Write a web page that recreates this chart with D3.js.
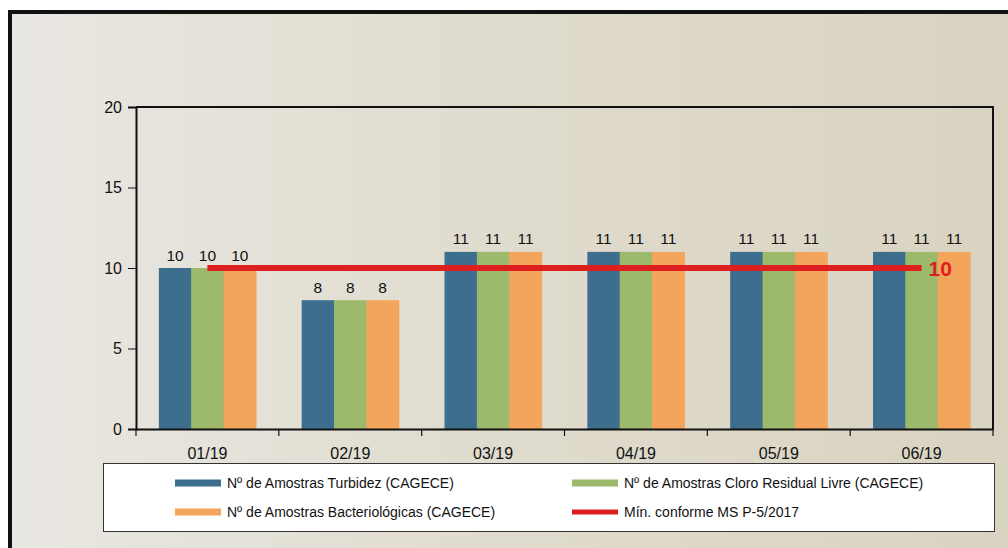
<!DOCTYPE html>
<html><head><meta charset="utf-8">
<script src="https://cdn.jsdelivr.net/npm/d3@7"></script>
<style>body{margin:0;background:#fff;}svg{display:block;font-family:"Liberation Sans",Arial,sans-serif;}</style>
</head><body><svg id="c" width="1008" height="548"></svg>
<script>
const categories = ["01/19","02/19","03/19","04/19","05/19","06/19"];
const turbidez = [10,8,11,11,11,11];
const cloro = [10,8,11,11,11,11];
const bacterio = [10,8,11,11,11,11];
const minimo = 10;
const yTicks = [0,5,10,15,20];
const seriesNames = ["Nº de Amostras Turbidez (CAGECE)","Nº de Amostras Cloro Residual Livre (CAGECE)","Nº de Amostras Bacteriológicas (CAGECE)"];
const lineName = "Mín. conforme MS  P-5/2017";
const colors = ["#3d6e8e","#9cb96c","#f3a55c"];
const red = "#de1f1f";
const FONT = "Liberation Sans, Arial, sans-serif";

const svg = d3.select("#c");
const defs = svg.append("defs");
const g1 = defs.append("linearGradient").attr("id","bg").attr("x1","0").attr("x2","1").attr("y1","0").attr("y2","0");
g1.append("stop").attr("offset","0").attr("stop-color","#e9e7e2");
g1.append("stop").attr("offset","0.45").attr("stop-color","#e0dccf");
g1.append("stop").attr("offset","1").attr("stop-color","#d9d3c1");
svg.append("rect").attr("x",10).attr("y",12).attr("width",1000).attr("height",540).attr("fill","url(#bg)");
svg.append("line").attr("x1",8).attr("x2",1008).attr("y1",12).attr("y2",12).attr("stroke","#111").attr("stroke-width",4);
svg.append("line").attr("x1",10).attr("x2",10).attr("y1",10).attr("y2",548).attr("stroke","#111").attr("stroke-width",4);

const L=136,R=993,T=107,B=429;
const x = d3.scaleBand().domain(categories).range([L,R]).paddingInner(0.32).paddingOuter(0.16);
const xc = d3.scaleBand().domain(categories).range([L,R]);
const y = d3.scaleLinear().domain([0,20]).range([B,T]);
const series = [turbidez,cloro,bacterio];
const xs = d3.scaleBand().domain([0,1,2]).range([0,x.bandwidth()]);

// frame
svg.append("path").attr("d",`M${L},${T}H${R}V${B}`).attr("fill","none").attr("stroke","#111").attr("stroke-width",2);

series.forEach((s,i)=>{
  svg.append("g").selectAll("rect").data(s).join("rect")
    .attr("x",(d,j)=>x(categories[j])+xs(i)).attr("width",xs.bandwidth()+0.5)
    .attr("y",d=>y(d)).attr("height",d=>B-y(d)).attr("fill",colors[i]);
  svg.append("g").selectAll("text").data(s).join("text")
    .attr("x",(d,j)=>x(categories[j])+xs(i)+xs.bandwidth()/2).attr("y",d=>y(d)-7.5)
    .attr("text-anchor","middle").attr("font-size",15.5).attr("fill","#111").text(d=>d);
});

// red line
const x1 = xc(categories[0])+xc.bandwidth()/2, x2 = xc(categories[5])+xc.bandwidth()/2;
svg.append("line").attr("x1",x1).attr("x2",x2).attr("y1",y(minimo)).attr("y2",y(minimo)).attr("stroke",red).attr("stroke-width",6);
svg.append("text").attr("x",x2+7).attr("y",y(minimo)+7.5).attr("font-size",21).attr("font-weight","bold").attr("fill",red).text(minimo);

// axes
const ya = svg.append("g").attr("transform",`translate(${L},0)`).call(d3.axisLeft(y).tickValues(yTicks).tickSize(8).tickPadding(6));
ya.select(".domain").attr("stroke","#111").attr("stroke-width",2);
ya.selectAll("text").attr("font-size",16).attr("fill","#111").attr("font-family",FONT);
ya.selectAll("line").attr("stroke","#111");
const xa = svg.append("g").attr("transform",`translate(0,${B})`).call(d3.axisBottom(xc).tickSize(0).tickPadding(19));
xa.select(".domain").attr("stroke","#111").attr("stroke-width",2);
xa.selectAll("text").attr("font-size",16).attr("fill","#111").attr("font-family",FONT);
svg.append("g").selectAll("line").data(d3.range(categories.length+1)).join("line")
  .attr("x1",i=>L+i*xc.step()).attr("x2",i=>L+i*xc.step()).attr("y1",B).attr("y2",B+7).attr("stroke","#111").attr("stroke-width",1.2);

// legend
svg.append("rect").attr("x",103.5).attr("y",463.5).attr("width",891).attr("height",68).attr("fill","#fff").attr("stroke","#333").attr("stroke-width",1);
const items = [
  {name:seriesNames[0],color:colors[0],x:175,y:483,h:7},
  {name:seriesNames[1],color:colors[1],x:572,y:483,h:7},
  {name:seriesNames[2],color:colors[2],x:175,y:512,h:7},
  {name:lineName,color:red,x:572,y:512,h:5}
];
const lg = svg.append("g").selectAll("g").data(items).join("g");
lg.append("rect").attr("x",d=>d.x).attr("y",d=>d.y-d.h/2).attr("width",46).attr("height",d=>d.h).attr("fill",d=>d.color);
lg.append("text").attr("x",d=>d.x+52).attr("y",d=>d.y+5).attr("font-size",14).attr("fill","#111").text(d=>d.name);
</script></body></html>
